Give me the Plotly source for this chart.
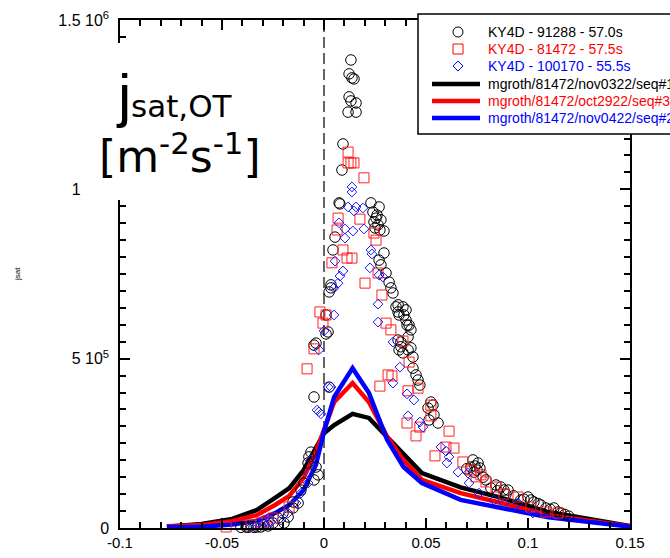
import plotly.graph_objects as go

# ---- simulated outer-target profiles (common radial grid, m) ----
sim_x = [-0.077, -0.06, -0.045, -0.033, -0.024, -0.017, -0.01, -0.004, 0.0, 0.005,
         0.014, 0.022, 0.031, 0.039, 0.048, 0.067, 0.087, 0.11, 0.15]
seq1_jsat = [4e3, 1.2e4, 2.7e4, 5.3e4, 8.9e4, 1.18e5, 1.71e5, 2.36e5, 2.8e5, 3.04e5,
             3.37e5, 3.25e5, 2.69e5, 2.16e5, 1.62e5, 1.2e5, 8.9e4, 4.7e4, 6e3]
seq3_jsat = [5e3, 9e3, 2.0e4, 3.8e4, 6.8e4, 9.5e4, 1.48e5, 2.24e5, 2.9e5, 3.72e5,
             4.28e5, 3.72e5, 2.69e5, 2.0e5, 1.42e5, 1.03e5, 7.4e4, 3.8e4, 5e3]
seq2_jsat = [3e3, 4e3, 1.0e4, 2.1e4, 4.4e4, 6.8e4, 1.12e5, 1.86e5, 2.85e5, 3.87e5,
             4.72e5, 3.99e5, 2.6e5, 1.8e5, 1.33e5, 8.3e4, 5.9e4, 3.2e4, 4e3]

# ---- KY4D probe data ----
p91288_x = [0.0132, 0.0123, 0.0137, 0.0147, 0.0123, 0.0132, 0.0157, 0.0118, 0.0157, 0.0093,
            0.0088, 0.0074, 0.0078, 0.0230, 0.0270, 0.0240, 0.0260, 0.0255, 0.0279, 0.0245,
            0.0265, 0.0250, 0.0274, 0.0294, 0.0054, 0.0044, 0.0294, 0.0270, 0.0279, 0.0304,
            0.0319, 0.0328, 0.0338, 0.0034, 0.0025, 0.0363, 0.0387, 0.0402, 0.0363, 0.0392,
            0.0402, 0.0417, 0.0426, 0.0010, 0.0020, 0.0010, 0.0363, 0.0377, 0.0368, 0.0387,
            0.0412, 0.0426, 0.0436, 0.0436, 0.0451, 0.0461, 0.0470, -0.0049, 0.0025, -0.0049,
            0.0524, 0.0534, 0.0510, 0.0539, 0.0559, 0.0515, 0.0730, 0.0755, 0.0720, 0.0740,
            0.0750, 0.0735, 0.0764, 0.0867, 0.0882, 0.0902, 0.0892, 0.1000, 0.1014, 0.1029,
            0.1063, 0.1127, 0.1147, 0.1161, -0.0064, -0.0074, -0.0078, -0.0039, -0.0029, -0.0049,
            -0.0127, -0.0152, -0.0176, -0.0196, -0.0407, -0.0372, -0.0343, -0.0309, -0.0274, -0.0250,
            -0.0225, -0.0201, -0.0152, -0.0113, -0.0098, 0.0034, -0.0039, 0.0353, 0.0368, 0.0407,
            0.0377, 0.0412, 0.1088, 0.0965, 0.0818, 0.0794, 0.0843, -0.0382, -0.0358, -0.0328,
            -0.0294, 0.0780, 0.0700, 0.0850, 0.0930, 0.0980, 0.1050, 0.1110, 0.1180, 0.1200]
p91288_y = [1.382e6, 1.341e6, 1.329e6, 1.326e6, 1.273e6, 1.261e6, 1.255e6, 1.228e6, 1.228e6, 1.134e6,
            1.057e6, 9.60e5, 9.57e5, 9.60e5, 9.48e5, 9.33e5, 9.24e5, 9.15e5, 9.10e5, 9.04e5,
            8.95e5, 8.86e5, 8.80e5, 8.77e5, 8.59e5, 8.21e5, 8.12e5, 7.91e5, 7.77e5, 7.53e5,
            7.26e5, 7.09e5, 6.94e5, 7.09e5, 6.97e5, 6.59e5, 6.53e5, 6.44e5, 6.38e5, 6.29e5,
            6.14e5, 5.99e5, 5.85e5, 6.29e5, 5.79e5, 5.73e5, 5.55e5, 5.35e5, 5.26e5, 5.17e5,
            5.26e5, 5.32e5, 5.05e5, 4.72e5, 4.52e5, 4.37e5, 4.22e5, 5.40e5, 4.16e5, 3.87e5,
            3.72e5, 3.63e5, 3.54e5, 3.34e5, 3.10e5, 3.19e5, 2.01e5, 1.92e5, 1.80e5, 1.83e5,
            1.71e5, 1.65e5, 1.77e5, 1.21e5, 1.12e5, 1.12e5, 1.00e5, 9.15e4, 8.27e4, 7.68e4,
            6.79e4, 5.91e4, 4.72e4, 4.43e4, 2.24e5, 2.10e5, 1.92e5, 1.80e5, 1.57e5, 1.42e5,
            7.38e4, 5.91e4, 3.25e4, 1.48e4, 2e3, 2e3, 2e3, 3e3, 6e3, 1.48e4,
            2.95e4, 4.43e4, 7.68e4, 1.12e5, 1.33e5, 7.18e5, 5.46e5, 6.53e5, 6.29e5, 5.99e5,
            5.49e5, 5.64e5, 5.91e4, 8.27e4, 1.18e5, 1.42e5, 1.27e5, 3e3, 6e3, 3e3,
            9e3, 1.5e5, 1.75e5, 1.10e5, 9.5e4, 8.5e4, 7.2e4, 5.5e4, 4.0e4, 3.5e4]

p81472_x = [0.0118, 0.0118, 0.0132, 0.0147, 0.0196, 0.0069, 0.0176, 0.0064, 0.0245, 0.0255,
            0.0093, 0.0113, 0.0137, 0.0039, 0.0265, 0.0201, 0.0284, -0.0020, 0.0010, -0.0005,
            0.0304, 0.0328, 0.0387, 0.0417, -0.0049, -0.0083, 0.0314, 0.0333, 0.0274, 0.0412,
            0.0461, 0.0524, 0.0524, 0.0407, 0.0451, 0.0470, 0.0613, 0.0544, 0.0598, 0.0637,
            0.0681, 0.0745, 0.0794, 0.0843, 0.0882, 0.0951, 0.1014, 0.1088, 0.1147, -0.0480,
            -0.0358, -0.0309, -0.0279, -0.0250, -0.0171, 0.0720, 0.0769]
p81472_y = [1.110e6, 1.078e6, 1.078e6, 1.078e6, 1.034e6, 9.15e5, 9.12e5, 8.80e5, 8.71e5, 8.50e5,
            8.21e5, 7.97e5, 7.97e5, 7.83e5, 7.53e5, 7.23e5, 6.88e5, 6.38e5, 6.29e5, 6.05e5,
            6.05e5, 5.85e5, 5.52e5, 4.90e5, 5.29e5, 4.70e5, 4.52e5, 4.49e5, 4.19e5, 4.05e5,
            4.13e5, 3.63e5, 3.31e5, 3.10e5, 2.72e5, 2.98e5, 2.86e5, 2.13e5, 2.39e5, 2.36e5,
            1.95e5, 1.51e5, 1.36e5, 1.21e5, 1.00e5, 9.15e4, 6.20e4, 4.72e4, 4.43e4, 3e3,
            9e3, 1.48e4, 2.07e4, 2.95e4, 6.20e4, 1.71e5, 1.57e5]

p100170_x = [0.0137, 0.0137, 0.0118, 0.0147, 0.0191, 0.0157, 0.0074, 0.0103, 0.0142, 0.0103,
             0.0196, 0.0230, 0.0235, 0.0054, 0.0225, 0.0093, 0.0078, 0.0069, 0.0049, 0.0270,
             0.0289, 0.0265, 0.0265, 0.0049, 0.0000, -0.0025, 0.0338, 0.0372, 0.0338, 0.0407,
             0.0441, 0.0412, 0.0470, 0.0485, -0.0034, -0.0015, 0.0020, 0.0573, 0.0598, 0.0603,
             0.0613, 0.0657, 0.0706, 0.0711, 0.0760, 0.0833, 0.0882, 0.0951, 0.1024, -0.0309,
             -0.0294, -0.0274, -0.0211, -0.0176, -0.0137, -0.0113, -0.0078, -0.0074, -0.0064, -0.0025,
             0.0034, -0.0358, -0.0333, -0.0260]
p100170_y = [1.007e6, 9.92e5, 9.48e5, 9.36e5, 9.45e5, 9.48e5, 9.01e5, 8.83e5, 8.77e5, 8.56e5,
             8.83e5, 8.21e5, 8.09e5, 7.88e5, 7.68e5, 7.59e5, 7.44e5, 7.23e5, 7.09e5, 7.47e5,
             7.41e5, 6.61e5, 6.08e5, 6.29e5, 5.82e5, 5.26e5, 5.49e5, 4.75e5, 4.28e5, 3.96e5,
             3.78e5, 3.31e5, 3.13e5, 2.98e5, 3.48e5, 3.37e5, 4.16e5, 2.39e5, 2.27e5, 1.92e5,
             2.10e5, 1.65e5, 1.62e5, 1.33e5, 1.03e5, 8.27e4, 7.38e4, 7.38e4, 4.43e4, 9e3,
             1.48e4, 1.48e4, 2.36e4, 4.43e4, 7.38e4, 1.03e5, 1.33e5, 1.62e5, 2.01e5, 3.43e5,
             4.16e5, 3e3, 6e3, 1.8e4]

# ---- axis ticks ----
x_ticks = [-0.1, -0.05, 0.0, 0.05, 0.1, 0.15]
x_labels = ["-0.1", "-0.05", "0", "0.05", "0.1", "0.15"]
y_ticks = [0, 5e5, 1e6, 1.5e6]
y_labels = ["0", "5 10<sup>5</sup>", "1 10<sup>6</sup>", "1.5 10<sup>6</sup>"]

legend_entries = [
    ("KY4D - 91288 - 57.0s", "black", "circle"),
    ("KY4D - 81472 - 57.5s", "#ff0000", "square"),
    ("KY4D - 100170 - 55.5s", "#0000ff", "diamond"),
    ("mgroth/81472/nov0322/seq#1", "black", "line"),
    ("mgroth/81472/oct2922/seq#3", "#ff0000", "line"),
    ("mgroth/81472/nov0422/seq#2", "#0000ff", "line"),
]

FONT = "Liberation Sans, Arial, Helvetica, sans-serif"
WIDE = "DejaVu Sans, Verdana, sans-serif"
W, H = 670, 558
ML, MR, MT, MB = 120, 40, 20, 30
PW, PH = W - ML - MR, H - MT - MB


def px(xp):
    return (xp - ML) / PW


def py(yp):
    return (H - MB - yp) / PH


fig = go.Figure()

for ys, col in [(seq1_jsat, "black"), (seq3_jsat, "#ff0000"), (seq2_jsat, "#0000ff")]:
    fig.add_trace(go.Scatter(x=sim_x, y=ys, mode="lines",
                             line=dict(color=col, width=4.5), cliponaxis=False))

fig.add_trace(go.Scatter(x=p91288_x, y=p91288_y, mode="markers", cliponaxis=False,
                         marker=dict(symbol="circle-open", size=10.5, color="black",
                                     line=dict(width=1, color="black"))))
fig.add_trace(go.Scatter(x=p81472_x, y=p81472_y, mode="markers", cliponaxis=False,
                         marker=dict(symbol="square-open", size=10, color="#ff2020",
                                     line=dict(width=1, color="#ff2020"))))
fig.add_trace(go.Scatter(x=p100170_x, y=p100170_y, mode="markers", cliponaxis=False,
                         marker=dict(symbol="diamond-open", size=7.5, color="#1a1aff",
                                     line=dict(width=1, color="#1a1aff"))))

shapes = []
# separatrix position
shapes.append(dict(type="line", xref="x", yref="paper", x0=0, x1=0, y0=0, y1=1,
                   line=dict(color="black", width=1.2, dash="11px,5px"), layer="below"))
# label box behind the quantity name
shapes.append(dict(type="rect", xref="paper", yref="paper",
                   x0=px(86), x1=px(272), y0=py(200), y1=py(43),
                   fillcolor="white", line=dict(width=0), layer="above"))
# legend frame
shapes.append(dict(type="rect", xref="paper", yref="paper",
                   x0=px(418), x1=px(700), y0=py(134), y1=py(14),
                   fillcolor="white", line=dict(color="black", width=1.5), layer="above"))

annotations = []
row_y = [32, 49, 66, 84, 101, 118]
for (label, col, kind), ry in zip(legend_entries, row_y):
    if kind == "line":
        shapes.append(dict(type="line", xref="paper", yref="paper",
                           x0=px(432), x1=px(480), y0=py(ry), y1=py(ry),
                           line=dict(color=col, width=4.5), layer="above"))
    elif kind == "circle":
        shapes.append(dict(type="circle", xref="paper", yref="paper",
                           xsizemode="pixel", ysizemode="pixel",
                           xanchor=px(458), yanchor=py(ry), x0=-5, x1=5, y0=-5, y1=5,
                           line=dict(color=col, width=1), layer="above"))
    elif kind == "square":
        shapes.append(dict(type="rect", xref="paper", yref="paper",
                           xsizemode="pixel", ysizemode="pixel",
                           xanchor=px(458), yanchor=py(ry), x0=-5, x1=5, y0=-5, y1=5,
                           line=dict(color=col, width=1), layer="above"))
    else:
        shapes.append(dict(type="path", xref="paper", yref="paper",
                           xsizemode="pixel", ysizemode="pixel",
                           xanchor=px(458), yanchor=py(ry),
                           path="M 0 5 L 5 0 L 0 -5 L -5 0 Z",
                           line=dict(color=col, width=1), layer="above"))
    annotations.append(dict(xref="paper", yref="paper", x=px(486), y=py(ry),
                            xanchor="left", yanchor="middle", showarrow=False,
                            text=label, font=dict(family=FONT, size=14, color=col)))

# quantity name and units
annotations.append(dict(xref="paper", yref="paper", x=px(114), y=py(96),
                        xanchor="left", yanchor="middle", showarrow=False,
                        text="j", font=dict(family=FONT, size=60, color="black")))
annotations.append(dict(xref="paper", yref="paper", x=px(129), y=py(106),
                        xanchor="left", yanchor="middle", showarrow=False,
                        text="sat,OT", font=dict(family=WIDE, size=31, color="black")))
annotations.append(dict(xref="paper", yref="paper", x=px(97), y=py(153),
                        xanchor="left", yanchor="middle", showarrow=False,
                        text="[m<sup>-2</sup>s<sup>-1</sup>]",
                        font=dict(family=WIDE, size=44, color="black")))
annotations.append(dict(xref="paper", yref="paper", x=px(17), y=py(274),
                        xanchor="center", yanchor="middle", showarrow=False, textangle=-90,
                        text="jsat", font=dict(family=FONT, size=8, color="black")))

fig.update_layout(
    width=W, height=H,
    margin=dict(l=ML, r=MR, t=MT, b=MB, pad=0, autoexpand=False),
    paper_bgcolor="white", plot_bgcolor="white",
    showlegend=False,
    shapes=shapes, annotations=annotations,
    xaxis=dict(range=[-0.1, 0.15], tickmode="array", tickvals=x_ticks, ticktext=x_labels,
               ticks="inside", ticklen=10, tickwidth=1.5, tickcolor="black",
               showline=True, linecolor="black", linewidth=1.5, mirror="ticks",
               showgrid=False, zeroline=False, automargin=False,
               tickfont=dict(family=FONT, size=15, color="black"),
               minor=dict(dtick=0.01, tick0=0, ticks="inside", ticklen=6,
                          tickcolor="black", tickwidth=1.5, showgrid=False)),
    yaxis=dict(range=[0, 1.5e6], tickmode="array", tickvals=y_ticks, ticktext=y_labels,
               ticks="inside", ticklen=10, tickwidth=1.5, tickcolor="black",
               showline=True, linecolor="black", linewidth=1.5, mirror="ticks",
               showgrid=False, zeroline=False, automargin=False,
               ticklabelstandoff=6,
               tickfont=dict(family=FONT, size=16, color="black"),
               minor=dict(dtick=5e4, tick0=0, ticks="inside", ticklen=6,
                          tickcolor="black", tickwidth=1.5, showgrid=False)),
)

fig.write_html("out.html")
